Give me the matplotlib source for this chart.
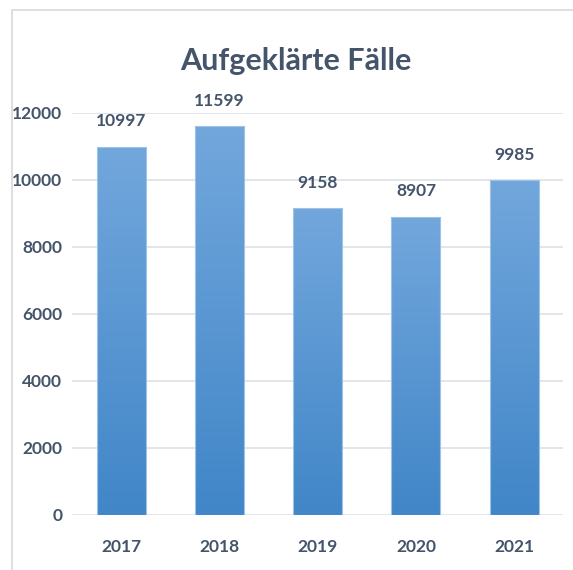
import numpy as np
import matplotlib
matplotlib.use("Agg")
import matplotlib.pyplot as plt
from matplotlib.patches import Rectangle

years = ["2017", "2018", "2019", "2020", "2021"]
cases = [10997, 11599, 9158, 8907, 9985]
yticks = [0, 2000, 4000, 6000, 8000, 10000, 12000]

text_col = "#44546A"
plt.rcParams["font.family"] = ["Lato", "DejaVu Sans"]
plt.rcParams["font.weight"] = "bold"

fig = plt.figure(figsize=(5.73, 5.70), dpi=100)
ax = fig.add_axes([0.126, 0.0965, 0.857, 0.7053])

# light frame around the chart
fig.patches.append(Rectangle((12 / 573, -0.1), 1.2, 1 - 10 / 570 + 0.1,
                             transform=fig.transFigure, fill=False,
                             edgecolor="#D9D9D9", linewidth=1.2))

x = np.arange(len(years))
bars = ax.bar(x, cases, width=0.5, color="none", edgecolor="#9DC3E6",
              linewidth=0.8, zorder=3)

# vertical gradient inside every bar
grad = np.linspace(0, 1, 256).reshape(-1, 1)
cmap = matplotlib.colors.LinearSegmentedColormap.from_list(
    "bars", ["#4186C8", "#72A7DC"])
for b in bars:
    x0, w, h = b.get_x(), b.get_width(), b.get_height()
    im = ax.imshow(grad, extent=[x0, x0 + w, 0, h], origin="lower",
                   cmap=cmap, aspect="auto", zorder=2)
    im.set_clip_path(b)
    ax.text(x0 + w / 2, h + 600, str(h), ha="center", va="baseline",
            fontsize=12.5, color=text_col, fontweight="bold")

ax.set_xlim(-0.5, len(years) - 0.5)
ax.set_ylim(0, 12000)
ax.set_xticks(x)
ax.set_xticklabels(years)
ax.set_yticks(yticks)
ax.yaxis.grid(True, color="#DDE2E8", linewidth=1.2)
ax.set_axisbelow(True)
for s in ax.spines.values():
    s.set_visible(False)
ax.tick_params(axis="both", length=0, labelsize=12.5, labelcolor=text_col)
ax.tick_params(axis="x", pad=17)
ax.tick_params(axis="y", pad=7)

fig.text(0.5 + 9 / 573, 1 - 70 / 570, "Aufgeklärte Fälle", ha="center",
         va="baseline", fontsize=22, color=text_col, fontweight="bold")

fig.savefig("out.png", dpi=100)
